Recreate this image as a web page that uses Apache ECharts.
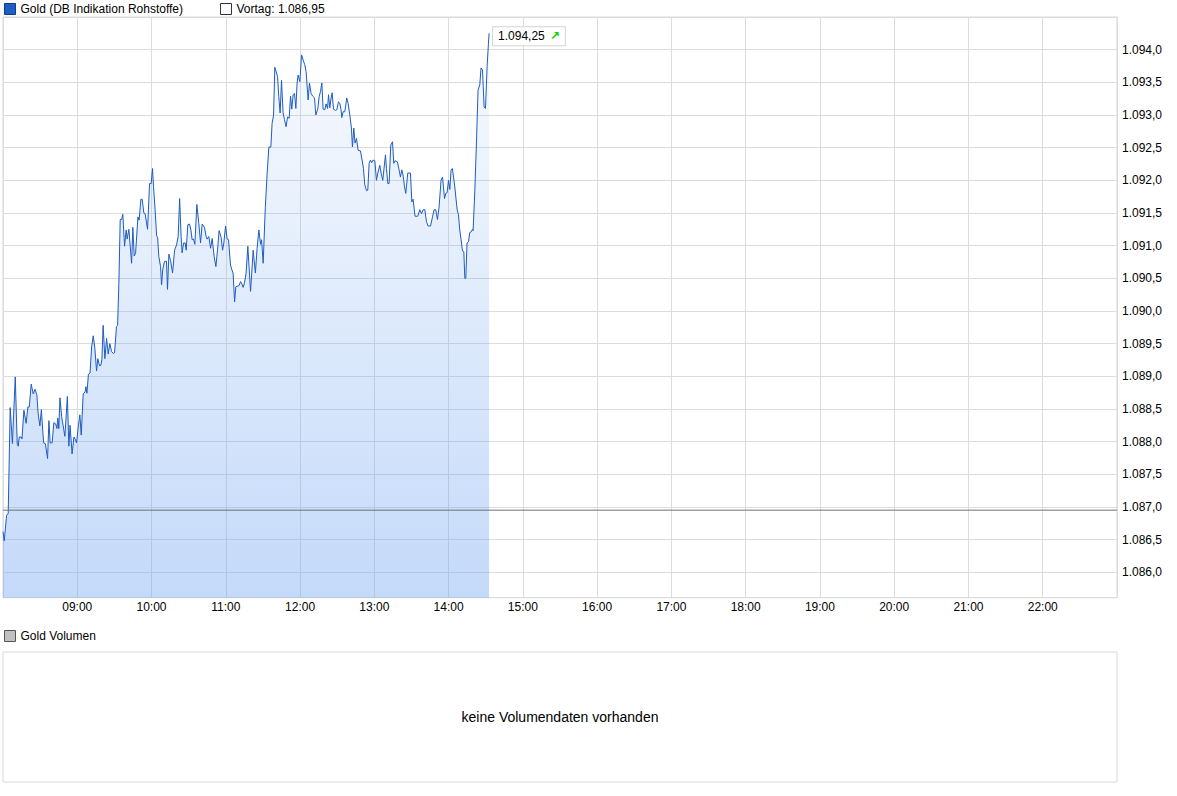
<!DOCTYPE html>
<html><head><meta charset="utf-8">
<script src="https://cdn.jsdelivr.net/npm/echarts@6/dist/echarts.min.js"></script>
<style>html,body{margin:0;padding:0;background:#fff}#c{width:1177px;height:796px}</style>
</head><body><div id="c"></div>
<script>
const seriesName = 'Gold (DB Indikation Rohstoffe)';
const volumeName = 'Gold Volumen';
const noVolumeText = 'keine Volumendaten vorhanden';
const prevClose = 1086.95;
const dayStart = 480;   // 08:00
const dayEnd = 1380;    // 23:00

// minutes since midnight
const minutes = [
480.0,481.0,482.9,484.2,485.8,487.6,489.9,491.5,492.3,493.1,
494.7,495.3,496.9,498.7,500.1,501.2,502.8,504.4,505.9,507.4,
508.4,509.8,511.0,512.8,514.2,516.0,517.1,518.1,519.7,521.1,
522.6,523.6,524.3,525.1,526.0,527.4,530.0,532.0,533.2,534.2,
535.8,537.3,538.5,539.4,540.9,542.1,543.2,544.8,546.3,547.0,
547.8,549.0,550.3,551.6,552.9,554.2,555.6,556.6,558.0,559.1,
559.9,560.9,562.3,563.7,565.0,566.3,567.7,569.0,570.1,571.7,
572.6,573.6,574.7,575.8,576.8,578.2,579.5,580.3,581.7,583.9,
584.9,586.0,587.1,589.0,590.0,591.4,592.4,593.8,594.8,596.8,
598.4,599.7,600.8,601.6,602.9,604.1,604.9,605.9,607.3,608.1,
609.1,610.5,612.1,612.9,614.0,615.4,617.0,618.6,620.2,621.5,
622.7,623.9,624.7,625.9,627.2,628.0,629.3,630.7,631.8,632.8,
633.9,635.0,636.6,638.2,639.6,640.9,642.8,644.1,644.9,646.3,
647.7,649.0,650.6,652.0,653.3,654.6,656.2,657.4,658.4,659.8,
661.1,662.2,663.8,665.1,665.9,667.1,668.1,669.7,670.8,671.9,
672.7,674.0,675.1,676.4,677.8,678.8,680.0,682.1,683.9,685.3,
686.7,688.1,688.9,690.2,691.9,693.4,694.8,696.4,697.4,698.6,
699.6,701.8,702.8,703.9,705.0,706.3,707.4,708.7,709.9,711.2,
712.3,713.3,714.4,715.5,716.6,717.6,718.4,719.8,721.2,722.5,
723.8,724.9,726.5,727.6,728.9,730.1,731.7,732.7,734.3,735.4,
736.5,737.6,738.6,740.0,741.0,742.2,743.0,744.0,745.1,745.9,
747.0,748.6,749.7,751.0,752.1,753.1,753.7,754.8,756.1,756.9,
757.7,758.8,760.2,761.5,762.3,763.4,764.4,765.6,766.9,768.8,
770.4,771.2,772.3,773.7,774.7,775.8,776.9,777.9,779.0,780.4,
781.7,782.8,784.4,785.5,786.8,789.0,789.8,790.9,791.9,793.3,
794.7,795.7,796.8,798.7,800.0,801.1,802.2,803.2,804.4,805.4,
807.0,809.2,810.3,811.3,812.9,815.1,816.7,818.1,819.4,820.8,
822.1,823.4,825.4,827.0,828.3,829.6,831.0,832.3,833.9,835.1,
836.7,837.7,838.8,839.9,841.0,842.0,843.1,845.0,846.9,848.0,
849.0,850.1,851.2,852.3,853.1,853.9,854.9,856.1,857.1,858.2,
859.3,859.8,861.2,862.5,863.8,865.2,866.2,867.4,868.7,869.8,
871.1,872.2,872.7
];

const prices = [
1086.62,1086.48,1086.87,1086.90,1088.52,1087.97,1088.99,1087.96,1087.93,1088.07,
1088.07,1088.04,1088.48,1088.28,1088.53,1088.53,1088.88,1088.73,1088.80,1088.71,
1088.43,1088.24,1088.49,1087.98,1087.97,1087.74,1088.32,1087.98,1087.98,1088.29,
1088.27,1088.20,1088.36,1088.20,1088.67,1088.38,1088.08,1088.69,1087.93,1088.25,
1087.81,1088.07,1088.03,1087.98,1088.24,1088.41,1088.10,1088.73,1088.76,1088.84,
1088.74,1089.03,1089.05,1089.45,1089.62,1089.43,1089.08,1089.27,1089.16,1089.17,
1089.26,1089.78,1089.27,1089.58,1089.34,1089.50,1089.38,1089.35,1089.36,1089.76,
1089.78,1090.42,1091.40,1091.40,1091.48,1090.99,1091.24,1091.10,1091.25,1090.73,
1091.28,1090.84,1090.88,1091.44,1091.39,1091.71,1091.71,1091.50,1091.49,1091.25,
1091.95,1091.95,1092.18,1091.90,1091.55,1091.15,1091.13,1090.83,1090.68,1090.40,
1090.64,1090.76,1090.76,1090.33,1090.87,1090.77,1090.58,1090.93,1091.01,1091.14,
1091.72,1091.14,1090.89,1091.04,1091.04,1090.93,1091.32,1091.33,1091.24,1091.09,
1091.10,1091.02,1091.63,1091.34,1091.04,1091.33,1091.28,1091.14,1091.10,1091.14,
1090.96,1091.11,1090.83,1090.68,1090.93,1091.23,1091.13,1090.93,1091.04,1091.30,
1091.10,1091.09,1090.70,1090.62,1090.58,1090.14,1090.37,1090.38,1090.39,1090.45,
1090.43,1090.36,1090.43,1090.58,1090.99,1090.67,1090.30,1090.93,1090.58,1090.96,
1091.24,1091.02,1091.09,1090.73,1091.58,1092.11,1092.51,1092.51,1092.87,1093.00,
1093.73,1093.59,1093.28,1093.03,1093.53,1093.03,1092.93,1092.82,1092.97,1092.95,
1093.29,1093.09,1093.31,1093.33,1093.10,1093.49,1093.61,1093.51,1093.92,1093.84,
1093.77,1093.66,1093.23,1093.49,1093.33,1093.29,1093.26,1093.00,1093.09,1093.28,
1093.36,1093.49,1093.09,1093.08,1093.17,1093.10,1093.31,1093.11,1093.26,1093.34,
1093.09,1093.07,1093.08,1093.20,1093.18,1093.08,1092.96,1093.05,1093.05,1093.15,
1093.26,1093.18,1093.00,1092.80,1092.51,1092.80,1092.57,1092.64,1092.46,1092.45,
1092.28,1092.18,1091.93,1091.84,1091.85,1092.26,1092.31,1092.27,1092.31,1092.30,
1092.00,1092.11,1092.23,1092.11,1092.00,1092.39,1092.18,1091.95,1091.95,1092.54,
1092.59,1092.26,1092.30,1092.28,1092.16,1092.05,1092.16,1092.08,1091.90,1091.80,
1092.11,1092.11,1091.67,1091.71,1091.45,1091.45,1091.55,1091.49,1091.55,1091.55,
1091.37,1091.30,1091.30,1091.44,1091.55,1091.55,1091.40,1091.59,1092.00,1092.05,
1091.72,1091.80,1091.81,1092.00,1091.86,1092.16,1092.18,1091.90,1091.55,1091.47,
1091.24,1091.09,1090.92,1090.91,1090.50,1090.50,1091.04,1091.06,1091.20,1091.21,
1091.25,1091.23,1091.85,1092.57,1093.38,1093.46,1093.72,1093.69,1093.12,1093.10,
1093.74,1094.10,1094.25
];

const yMin = 1085.61;
const yMax = 1094.5;
const yStep = 0.5;
const xStep = 60;

const FONT = "'Liberation Sans', Arial, Helvetica, sans-serif";

function fmtDE(v, d) {
  const s = Number(v).toFixed(d);
  const parts = s.split('.');
  const ip = parts[0].replace(/\B(?=(\d{3})+(?!\d))/g, '.');
  return parts[1] ? ip + ',' + parts[1] : ip;
}
function pad(n) { return (n < 10 ? '0' : '') + n; }
function hhmm(v) { const m = Math.round(v); return pad(Math.floor(m / 60)) + ':' + pad(m % 60); }
function isStep(v, step) { const k = v / step; return Math.abs(k - Math.round(k)) < 1e-6; }

const data = minutes.map((m, i) => [m, prices[i]]);
const vortagName = 'Vortag: ' + fmtDE(prevClose, 2);

const chart = echarts.init(document.getElementById('c'), null, { renderer: 'svg' });

const option = {
  animation: false,
  backgroundColor: '#fff',
  textStyle: { fontFamily: FONT },
  grid: [
    { left: 3, right: 60, top: 17, bottom: 198.3, show: true, borderColor: '#d8d8d8', borderWidth: 1, backgroundColor: 'transparent' },
    { left: 3, right: 60, top: 652, bottom: 14, show: true, borderColor: '#d8d8d8', borderWidth: 1, backgroundColor: 'transparent' }
  ],
  xAxis: [
    {
      type: 'value', gridIndex: 0, min: dayStart, max: dayEnd, interval: xStep,
      axisLine: { show: false }, axisTick: { show: false },
      splitLine: { show: true, lineStyle: { color: '#dcdcdc', width: 1 } },
      axisLabel: { showMinLabel: false, showMaxLabel: false, margin: 3, color: '#000', fontSize: 12, fontFamily: FONT,
        formatter: v => hhmm(v) }
    },
    { type: 'value', gridIndex: 1, show: false, min: dayStart, max: dayEnd }
  ],
  yAxis: [
    {
      type: 'value', gridIndex: 0, position: 'right', min: yMin, max: yMax,
      minInterval: yStep, maxInterval: yStep, splitNumber: 18,
      axisLine: { show: false }, axisTick: { show: false },
      splitLine: { show: true, lineStyle: { color: '#dcdcdc', width: 1 } },
      axisLabel: { showMinLabel: false, showMaxLabel: false, margin: 5, color: '#000', fontSize: 12, fontFamily: FONT,
        formatter: v => (isStep(v, yStep) && v < yMax - 1e-6) ? fmtDE(v, 1) : '' }
    },
    { type: 'value', gridIndex: 1, show: false, min: 0, max: 1 }
  ],
  legend: [
    {
      left: 4, top: 3, padding: 0, itemWidth: 11, itemHeight: 11, itemGap: 37, icon: 'rect', selectedMode: false,
      textStyle: { fontSize: 12, color: '#000', fontFamily: FONT },
      data: [
        { name: seriesName, icon: 'rect', itemStyle: { color: '#1d5ec7', borderColor: '#0e3c8c', borderWidth: 1 } },
        { name: vortagName, icon: 'rect', itemStyle: { color: '#ffffff', borderColor: '#333333', borderWidth: 1 } }
      ]
    },
    {
      left: 4, top: 630, padding: 0, itemWidth: 11, itemHeight: 11, icon: 'rect', selectedMode: false,
      textStyle: { fontSize: 12, color: '#000', fontFamily: FONT },
      data: [
        { name: volumeName, icon: 'rect', itemStyle: { color: '#c0c0c0', borderColor: '#555555', borderWidth: 1 } }
      ]
    }
  ],
  series: [
    {
      name: seriesName, type: 'line', xAxisIndex: 0, yAxisIndex: 0, data: data,
      showSymbol: false, symbol: 'none', z: 2,
      lineStyle: { color: '#1e5cc0', width: 1 },
      itemStyle: { color: '#1e5cc0' },
      areaStyle: {
        origin: 'start',
        color: { type: 'linear', x: 0, y: 0, x2: 0, y2: 1,
          colorStops: [
            { offset: 0, color: 'rgba(105,160,240,0.06)' },
            { offset: 1, color: 'rgba(105,160,240,0.56)' }
          ] }
      },
      endLabel: {
        show: true, distance: 4, offset: [0, 3],
        formatter: p => '{v|' + fmtDE(p.value[1], 2) + '}{a|\u2197}',
        backgroundColor: '#fff', borderColor: '#d4d4d4', borderWidth: 1, padding: [3, 5, 3, 5],
        rich: {
          v: { fontSize: 12, color: '#000', fontFamily: FONT, padding: [0, 5, 0, 0] },
          a: { fontSize: 12, color: '#00d400', fontWeight: 'bold', fontFamily: "'DejaVu Sans', sans-serif" }
        }
      }
    },
    {
      name: vortagName, type: 'line', xAxisIndex: 0, yAxisIndex: 0,
      data: [[dayStart, prevClose], [dayEnd, prevClose]],
      showSymbol: false, symbol: 'none', silent: true, z: 3,
      lineStyle: { color: '#707070', width: 1 },
      itemStyle: { color: '#ffffff' }
    },
    {
      name: volumeName, type: 'bar', xAxisIndex: 1, yAxisIndex: 1, data: [],
      itemStyle: { color: '#c0c0c0' }
    }
  ],
  graphic: [
    {
      type: 'text', x: 560, y: 717, silent: true,
      style: { text: noVolumeText, fill: '#000', font: '14px ' + FONT,
        textAlign: 'center', textVerticalAlign: 'middle', align: 'center', verticalAlign: 'middle' }
    }
  ]
};
chart.setOption(option);
</script>
</body></html>
